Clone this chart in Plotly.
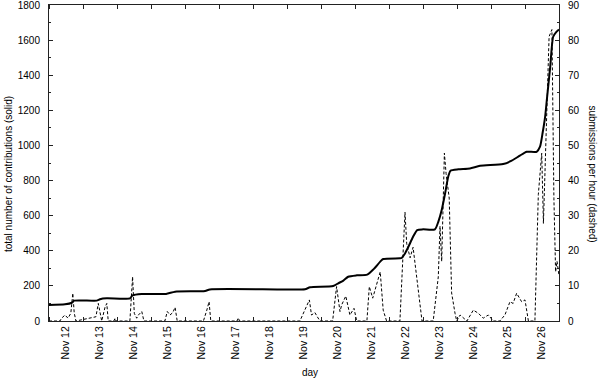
import pandas as pd
import plotly.graph_objects as go

START = "2008-11-12 00:00"
END = "2008-11-27 00:00"

# cumulative contributions (solid, left axis): hours since START, values
total_hours = [0, 11.3, 16.1, 17.8, 33.6, 36, 40.8, 57.1, 59, 65.5,
               82.6, 89, 110.2, 113.5, 163, 180.7, 184.3, 200.6, 204.2, 207.8,
               211.2, 217.2, 224.6, 229, 233.8, 235.9, 247.7, 248.9, 251.3, 253.7,
               257, 259.9, 264, 272.4, 274.8, 277.2, 279.6, 281.8, 283.4, 289,
               297.1, 304.3, 320.6, 326.6, 332.4, 337.2, 344.2, 346.6, 348.5, 350.2,
               351.4, 352.6, 353.8, 355.9, 358.3, 360]
total_values = [91, 95, 104, 116, 116, 124, 129, 129, 146, 154,
                154, 167, 171, 180, 180, 181, 192, 199, 215, 230,
                252, 260, 264, 294, 338, 353, 357, 359, 385, 423,
                480, 518, 522, 522, 565, 632, 727, 822, 856, 864,
                869, 884, 894, 913, 942, 964, 964, 993, 1075, 1163,
                1259, 1354, 1448, 1619, 1648, 1661]

# submissions per hour (dashed, right axis)
rate_hours = [0, 7.7, 8.9, 11.3, 13.4, 15.4, 16.8, 17.8, 19.0, 33.1,
              34.8, 36.0, 37.2, 39.6, 40.8, 41.8, 45.8, 46.6, 47.3, 57.1,
              59.0, 60.2, 61.9, 63.1, 65.5, 67.0, 81.8, 83.5, 85.4, 87.4,
              89.0, 90.5, 109.0, 111.4, 113.0, 114.2, 132.7, 133.7, 134.4, 177.1,
              183.8, 185.3, 187.7, 189.4, 191.3, 200.2, 203.0, 205.4, 206.6, 209.5,
              212.4, 215.3, 217.2, 224.4, 226.1, 228.5, 233.8, 235.9, 238.3, 247.7,
              251.3, 252.5, 253.7, 254.9, 257.0, 263.3, 271.2, 274.8, 276.0, 277.2,
              279.1, 280.3, 282.5, 284.2, 286.6, 287.8, 290.2, 295.0, 299.5, 303.1,
              306.5, 310.1, 313.7, 318.2, 321.8, 325.4, 327.6, 330.1, 333.6, 336.0,
              338.4, 343.0, 345.4, 347.8, 349.0, 353.0, 355.0, 356.4, 357.6, 358.6,
              360.0]
rate_values = [0, 0, 0.8, 1.7, 0.8, 2.2, 7.9, 2.3, 0, 1.2,
               5, 2.7, 0, 4, 5, 0, 0, 0.8, 0, 0,
               12.6, 2.2, 0.8, 1.7, 2.7, 0, 0, 2.7, 1.7, 2.4,
               3.9, 0, 0, 3.1, 5.5, 0, 0, 0.9, 0, 0,
               6, 1.7, 2.4, 1.2, 0, 0, 9.8, 2.7, 4.6, 7.1,
               1.7, 3.6, 0, 0, 9.8, 6.5, 14, 3.1, 0, 0,
               31, 22, 20, 18, 21, 0, 0, 12.6, 27, 17,
               47.8, 42, 35, 8, 2.2, 0, 1.7, 0, 3.1, 2.2,
               0.8, 1.7, 0, 0, 1.7, 5.5, 5, 7.9, 5.5, 6,
               0, 0, 36, 47.8, 27.8, 81, 83, 35, 14, 17,
               13]

base = pd.Timestamp(START)
total_t = [base + pd.Timedelta(hours=h) for h in total_hours]
rate_t = [base + pd.Timedelta(hours=h) for h in rate_hours]

FONT = "Liberation Sans, Arial, sans-serif"
AX = "#222222"

fig = go.Figure()
fig.add_trace(go.Scatter(x=total_t, y=total_values, mode="lines",
                         line=dict(color="black", width=2, shape="spline", smoothing=0.6),
                         yaxis="y", showlegend=False))
fig.add_trace(go.Scatter(x=rate_t, y=rate_values, mode="lines",
                         line=dict(color="black", width=1, dash="3px,2px"),
                         yaxis="y2", showlegend=False))

fig.update_layout(
    width=598, height=380,
    margin=dict(l=49, r=39, t=5, b=59),
    paper_bgcolor="white", plot_bgcolor="white",
    font=dict(family=FONT, size=10, color="black"),
    xaxis=dict(type="date", range=[START, END], tick0=START, dtick=86400000,
               ticklabelmode="period", tickformat="%b %d", tickangle=-90,
               ticks="inside", ticklen=4, tickcolor=AX,
               showline=True, linecolor=AX, linewidth=1, mirror="ticks",
               showgrid=False, zeroline=False, automargin=False,
               ticklabeloverflow="allow", tickfont=dict(size=10.5)),
    yaxis=dict(range=[0, 1800], dtick=200, ticks="inside", ticklen=4, tickcolor=AX,
               minor=dict(dtick=100, ticks="inside", ticklen=2, tickcolor=AX),
               showline=True, linecolor=AX, linewidth=1, automargin=False,
               ticklabeloverflow="allow",
               showgrid=False, zeroline=False, ticklabelstandoff=6),
    yaxis2=dict(range=[0, 90], dtick=10, overlaying="y", side="right",
                ticks="inside", ticklen=4, tickcolor=AX,
                minor=dict(dtick=5, ticks="inside", ticklen=2, tickcolor=AX),
                showline=True, linecolor=AX, linewidth=1, automargin=False,
                ticklabeloverflow="allow",
                showgrid=False, zeroline=False, ticklabelstandoff=6),
    annotations=[
        dict(text="total number of contributions (solid)", xref="paper", yref="paper",
             x=-0.0804, y=0.465, textangle=-90, showarrow=False,
             xanchor="center", yanchor="middle", font=dict(size=10)),
        dict(text="submissions per hour (dashed)", xref="paper", yref="paper",
             x=1.066, y=0.465, textangle=90, showarrow=False,
             xanchor="center", yanchor="middle", font=dict(size=10)),
        dict(text="day", xref="paper", yref="paper",
             x=0.512, y=-0.164, showarrow=False,
             xanchor="center", yanchor="middle", font=dict(size=10)),
    ],
)

fig.write_html("out.html", config={"displayModeBar": False},
               post_script="document.body.style.margin='0';document.body.style.padding='0';")
